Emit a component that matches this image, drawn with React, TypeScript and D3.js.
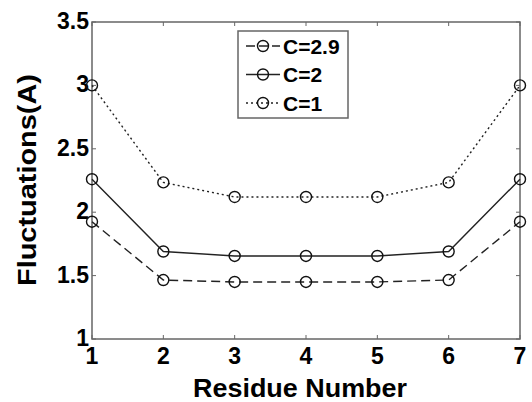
import React, { useEffect, useRef } from 'react';
import * as d3 from 'd3';

const residues = [1, 2, 3, 4, 5, 6, 7];
const c29 = [1.925, 1.465, 1.45, 1.45, 1.45, 1.465, 1.925];
const c2 = [2.26, 1.69, 1.655, 1.655, 1.655, 1.69, 2.26];
const c1 = [3.0, 2.235, 2.12, 2.12, 2.12, 2.235, 3.0];
const seriesNames = ['C=2.9', 'C=2', 'C=1'];
const yTicks = [1, 1.5, 2, 2.5, 3, 3.5];

export default function App() {
  const ref = useRef<SVGSVGElement>(null);

  useEffect(() => {
    const svg = d3.select(ref.current);
    svg.selectAll('*').remove();

    const left = 92, right = 520, top = 22, bottom = 339;
    const font = 'Arial, "Liberation Sans", sans-serif';

    const x = d3.scaleLinear().domain([1, 7]).range([left, right]);
    const y = d3.scaleLinear().domain([1, 3.5]).range([bottom, top]);

    // frame
    svg.append('rect')
      .attr('x', left).attr('y', top)
      .attr('width', right - left).attr('height', bottom - top)
      .attr('fill', 'none').attr('stroke', '#666').attr('stroke-width', 1.5);

    // inward ticks on all sides
    const tickLen = 4;
    residues.forEach(r => {
      svg.append('line').attr('x1', x(r)).attr('x2', x(r))
        .attr('y1', bottom).attr('y2', bottom - tickLen).attr('stroke', '#666');
      svg.append('line').attr('x1', x(r)).attr('x2', x(r))
        .attr('y1', top).attr('y2', top + tickLen).attr('stroke', '#666');
    });
    yTicks.forEach(t => {
      svg.append('line').attr('x1', left).attr('x2', left + tickLen)
        .attr('y1', y(t)).attr('y2', y(t)).attr('stroke', '#666');
      svg.append('line').attr('x1', right).attr('x2', right - tickLen)
        .attr('y1', y(t)).attr('y2', y(t)).attr('stroke', '#666');
    });

    // tick labels
    svg.append('g').selectAll('text').data(residues).enter().append('text')
      .attr('x', d => x(d)).attr('y', bottom + 25)
      .attr('text-anchor', 'middle')
      .attr('font-family', font).attr('font-weight', 'bold').attr('font-size', 23)
      .text(d => d);

    svg.append('g').selectAll('text').data(yTicks).enter().append('text')
      .attr('x', left - 3).attr('y', d => y(d) + 7)
      .attr('text-anchor', 'end')
      .attr('font-family', font).attr('font-weight', 'bold').attr('font-size', 23)
      .text(d => d);

    // axis titles
    svg.append('text')
      .attr('x', 300).attr('y', 397)
      .attr('text-anchor', 'middle')
      .attr('font-family', font).attr('font-weight', 'bold').attr('font-size', 25)
      .attr('textLength', 214).attr('lengthAdjust', 'spacingAndGlyphs')
      .text('Residue Number');

    svg.append('text')
      .attr('transform', `translate(36, 180) rotate(-90)`)
      .attr('text-anchor', 'middle')
      .attr('font-family', font).attr('font-weight', 'bold').attr('font-size', 25)
      .attr('textLength', 212).attr('lengthAdjust', 'spacingAndGlyphs')
      .text('Fluctuations(A)');

    const allSeries = [c29, c2, c1];
    const dashes = ['9,5', null, '2,3'];
    const line = d3.line<number>().x((d, i) => x(residues[i])).y(d => y(d));

    allSeries.forEach((s, k) => {
      svg.append('path').datum(s)
        .attr('d', line)
        .attr('fill', 'none').attr('stroke', '#222').attr('stroke-width', 1.4)
        .attr('stroke-dasharray', dashes[k]);
      svg.append('g').selectAll('circle').data(s).enter().append('circle')
        .attr('cx', (d, i) => x(residues[i])).attr('cy', d => y(d))
        .attr('r', 5.5)
        .attr('fill', 'none').attr('stroke', '#111').attr('stroke-width', 1.4);
    });

    // legend
    const lg = svg.append('g');
    lg.append('rect')
      .attr('x', 238).attr('y', 31).attr('width', 110).attr('height', 87)
      .attr('fill', 'white').attr('stroke', '#666').attr('stroke-width', 1.5);
    seriesNames.forEach((name, k) => {
      const ly = 46 + k * 28.5;
      lg.append('line').attr('x1', 246).attr('x2', 280)
        .attr('y1', ly).attr('y2', ly)
        .attr('stroke', '#222').attr('stroke-width', 1.4)
        .attr('stroke-dasharray', dashes[k] ? (k === 0 ? '9,4' : '2,3') : null);
      lg.append('circle').attr('cx', 263).attr('cy', ly).attr('r', 5.5)
        .attr('fill', 'none').attr('stroke', '#111').attr('stroke-width', 1.4);
      lg.append('text').attr('x', 283).attr('y', ly + 7.5)
        .attr('font-family', font).attr('font-weight', 'bold').attr('font-size', 21)
        .text(name);
    });
  }, []);

  return (
    <svg ref={ref} width={532} height={402}
      style={{ position: 'absolute', left: 0, top: 0, background: 'white' }} />
  );
}
